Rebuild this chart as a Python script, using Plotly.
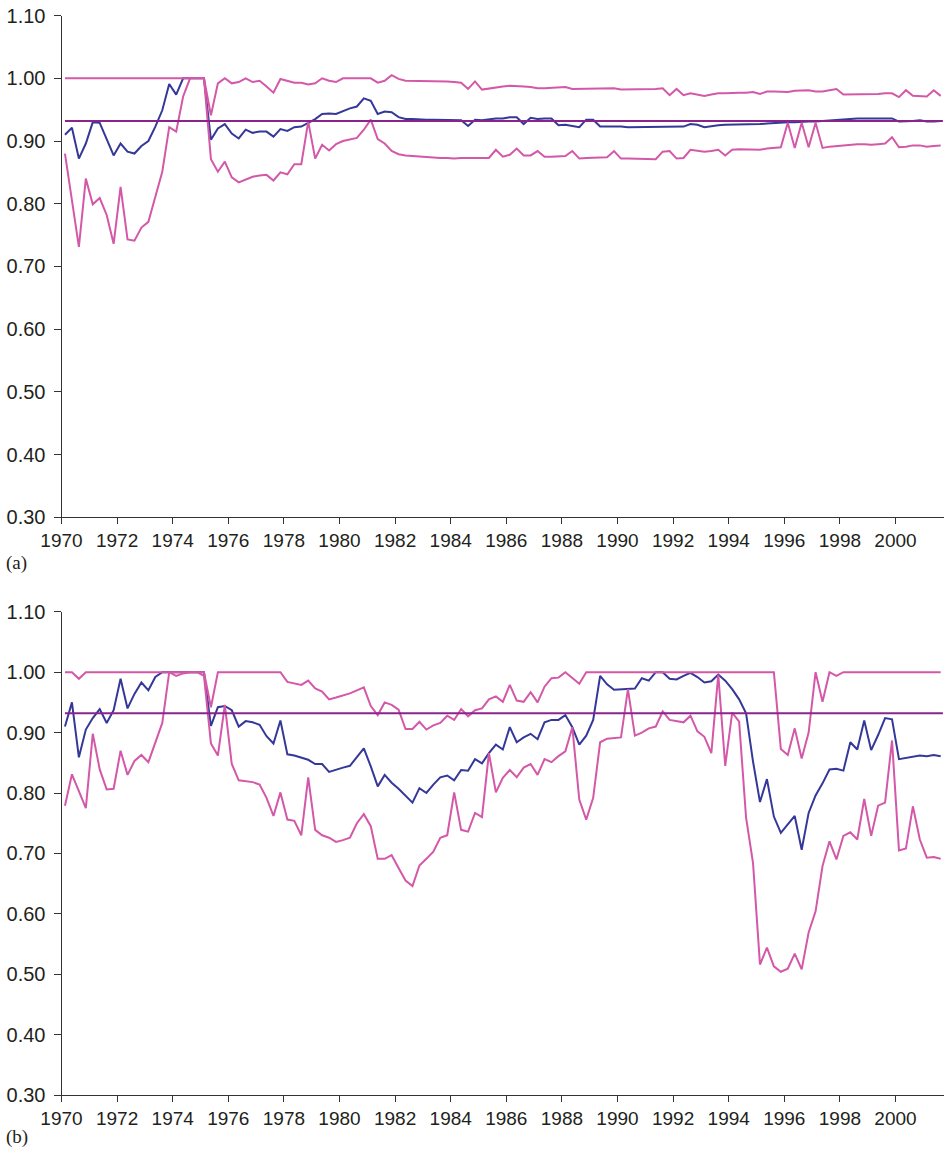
import plotly.graph_objects as go

# ---------------- data (quarterly, 1970Q1 .. 2001Q3) ----------------
START_YEAR = 1970
TARGET = 0.932
YEAR_TICKS = list(range(1970, 2001, 2))
Y_TICKS = [0.30, 0.40, 0.50, 0.60, 0.70, 0.80, 0.90, 1.00, 1.10]

a_mid = [0.910, 0.921, 0.872, 0.896, 0.930, 0.929, 0.903, 0.877, 0.896, 0.883,
         0.880, 0.892, 0.900, 0.923, 0.949, 0.991, 0.974, 1.000, 1.000, 1.000,
         1.000, 0.902, 0.920, 0.927, 0.912, 0.904, 0.918, 0.913, 0.915, 0.915,
         0.907, 0.919, 0.916, 0.922, 0.923, 0.929, 0.935, 0.943, 0.944, 0.943,
         0.948, 0.952, 0.955, 0.968, 0.964, 0.943, 0.947, 0.946, 0.938, 0.935,
         0.935, 0.934, 0.934, 0.934, 0.934, 0.934, 0.933, 0.933, 0.924, 0.934,
         0.933, 0.935, 0.936, 0.936, 0.938, 0.938, 0.927, 0.937, 0.935, 0.936,
         0.936, 0.925, 0.926, 0.924, 0.922, 0.934, 0.934, 0.923, 0.923, 0.924,
         0.923, 0.922, 0.922, 0.922, 0.922, 0.922, 0.923, 0.923, 0.923, 0.923,
         0.927, 0.926, 0.922, 0.924, 0.925, 0.926, 0.926, 0.927, 0.927, 0.926,
         0.927, 0.928, 0.929, 0.929, 0.930, 0.930, 0.931, 0.931, 0.931, 0.932,
         0.933, 0.934, 0.935, 0.936, 0.936, 0.936, 0.936, 0.936, 0.936, 0.936,
         0.931, 0.931, 0.932, 0.933, 0.931, 0.931, 0.932]

a_upper = [1.000, 1.000, 1.000, 1.000, 1.000, 1.000, 1.000, 1.000, 1.000, 1.000,
           1.000, 1.000, 1.000, 1.000, 1.000, 1.000, 1.000, 1.000, 1.000, 1.000,
           1.000, 0.941, 0.992, 1.000, 0.992, 0.994, 1.000, 0.994, 0.996, 0.987,
           0.977, 0.999, 0.996, 0.993, 0.993, 0.990, 0.992, 1.000, 0.996, 0.994,
           1.000, 1.000, 1.000, 1.000, 1.000, 0.993, 0.996, 1.005, 0.999, 0.996,
           0.996, 0.995, 0.995, 0.995, 0.995, 0.995, 0.994, 0.993, 0.983, 0.995,
           0.982, 0.984, 0.986, 0.987, 0.988, 0.988, 0.987, 0.986, 0.984, 0.984,
           0.985, 0.985, 0.986, 0.983, 0.983, 0.983, 0.983, 0.983, 0.984, 0.984,
           0.982, 0.982, 0.982, 0.982, 0.983, 0.983, 0.984, 0.973, 0.983, 0.973,
           0.976, 0.974, 0.972, 0.974, 0.976, 0.976, 0.977, 0.977, 0.977, 0.978,
           0.975, 0.979, 0.979, 0.978, 0.978, 0.980, 0.980, 0.981, 0.979, 0.979,
           0.981, 0.983, 0.974, 0.974, 0.974, 0.974, 0.974, 0.975, 0.976, 0.976,
           0.970, 0.981, 0.972, 0.972, 0.971, 0.981, 0.972]

a_lower = [0.880, 0.805, 0.731, 0.840, 0.799, 0.809, 0.782, 0.736, 0.827, 0.743,
           0.741, 0.762, 0.771, 0.811, 0.851, 0.922, 0.915, 0.971, 1.000, 1.000,
           1.000, 0.871, 0.851, 0.867, 0.842, 0.834, 0.838, 0.843, 0.845, 0.846,
           0.837, 0.850, 0.847, 0.863, 0.863, 0.931, 0.872, 0.894, 0.885, 0.895,
           0.900, 0.903, 0.905, 0.918, 0.934, 0.903, 0.896, 0.884, 0.879, 0.877,
           0.876, 0.876, 0.875, 0.874, 0.873, 0.873, 0.872, 0.873, 0.873, 0.873,
           0.872, 0.873, 0.886, 0.875, 0.878, 0.888, 0.877, 0.877, 0.884, 0.875,
           0.875, 0.875, 0.876, 0.884, 0.872, 0.873, 0.873, 0.873, 0.874, 0.884,
           0.872, 0.872, 0.872, 0.872, 0.872, 0.871, 0.883, 0.884, 0.872, 0.873,
           0.886, 0.885, 0.883, 0.884, 0.886, 0.877, 0.886, 0.887, 0.887, 0.887,
           0.886, 0.888, 0.889, 0.890, 0.929, 0.889, 0.929, 0.890, 0.929, 0.889,
           0.891, 0.892, 0.894, 0.895, 0.895, 0.895, 0.894, 0.895, 0.896, 0.906,
           0.890, 0.891, 0.893, 0.893, 0.891, 0.892, 0.893]

b_mid = [0.910, 0.950, 0.859, 0.905, 0.924, 0.939, 0.916, 0.937, 0.989, 0.940,
         0.964, 0.983, 0.970, 0.992, 1.000, 1.000, 1.000, 1.000, 1.000, 1.000,
         1.000, 0.911, 0.942, 0.944, 0.937, 0.910, 0.919, 0.917, 0.913, 0.894,
         0.882, 0.920, 0.864, 0.862, 0.859, 0.855, 0.848, 0.848, 0.835, 0.839,
         0.842, 0.845, 0.860, 0.874, 0.844, 0.811, 0.830, 0.817, 0.807, 0.795,
         0.784, 0.808, 0.800, 0.814, 0.826, 0.829, 0.821, 0.838, 0.837, 0.856,
         0.849, 0.866, 0.880, 0.872, 0.909, 0.884, 0.892, 0.898, 0.889, 0.917,
         0.921, 0.921, 0.929, 0.909, 0.880, 0.895, 0.921, 0.994, 0.980, 0.971,
         0.972, 0.972, 0.973, 0.990, 0.986, 1.000, 1.000, 0.989, 0.988, 0.994,
         0.999, 0.992, 0.983, 0.985, 0.996, 0.986, 0.972, 0.955, 0.932, 0.852,
         0.785, 0.823, 0.761, 0.734, 0.748, 0.762, 0.706, 0.767, 0.796, 0.816,
         0.839, 0.840, 0.837, 0.884, 0.872, 0.920, 0.871, 0.896, 0.924, 0.922,
         0.856, 0.858, 0.859, 0.862, 0.861, 0.863, 0.861]

b_upper = [1.000, 1.000, 0.989, 1.000, 1.000, 1.000, 1.000, 1.000, 1.000, 1.000,
           1.000, 1.000, 1.000, 1.000, 1.000, 1.000, 1.000, 1.000, 1.000, 1.000,
           1.000, 0.942, 1.000, 1.000, 1.000, 1.000, 1.000, 1.000, 1.000, 1.000,
           1.000, 1.000, 0.984, 0.982, 0.979, 0.986, 0.973, 0.968, 0.955, 0.958,
           0.961, 0.965, 0.970, 0.975, 0.944, 0.929, 0.950, 0.946, 0.938, 0.906,
           0.906, 0.918, 0.905, 0.912, 0.916, 0.928, 0.921, 0.939, 0.927, 0.937,
           0.940, 0.955, 0.960, 0.951, 0.979, 0.953, 0.951, 0.967, 0.950, 0.976,
           0.990, 0.991, 1.000, 0.990, 0.981, 1.000, 1.000, 1.000, 1.000, 1.000,
           1.000, 1.000, 1.000, 1.000, 1.000, 1.000, 1.000, 1.000, 1.000, 1.000,
           1.000, 1.000, 1.000, 1.000, 1.000, 1.000, 1.000, 1.000, 1.000, 1.000,
           1.000, 1.000, 1.000, 0.873, 0.863, 0.907, 0.857, 0.900, 1.000, 0.951,
           1.000, 0.994, 1.000, 1.000, 1.000, 1.000, 1.000, 1.000, 1.000, 1.000,
           1.000, 1.000, 1.000, 1.000, 1.000, 1.000, 1.000]

b_lower = [0.779, 0.831, 0.803, 0.775, 0.898, 0.839, 0.806, 0.807, 0.870, 0.830,
           0.853, 0.863, 0.851, 0.882, 0.916, 1.000, 0.994, 0.998, 1.000, 1.000,
           0.994, 0.882, 0.862, 0.946, 0.848, 0.821, 0.820, 0.818, 0.814, 0.792,
           0.762, 0.801, 0.756, 0.754, 0.730, 0.826, 0.739, 0.730, 0.726, 0.719,
           0.722, 0.726, 0.750, 0.765, 0.745, 0.691, 0.691, 0.697, 0.676, 0.655,
           0.646, 0.680, 0.691, 0.703, 0.726, 0.730, 0.801, 0.739, 0.736, 0.767,
           0.760, 0.866, 0.801, 0.825, 0.838, 0.826, 0.842, 0.848, 0.830, 0.856,
           0.851, 0.861, 0.869, 0.909, 0.789, 0.756, 0.792, 0.884, 0.890, 0.891,
           0.892, 0.972, 0.895, 0.900, 0.907, 0.910, 0.935, 0.921, 0.919, 0.917,
           0.928, 0.902, 0.893, 0.866, 0.996, 0.845, 0.933, 0.918, 0.759, 0.684,
           0.516, 0.544, 0.513, 0.504, 0.509, 0.534, 0.508, 0.569, 0.604, 0.679,
           0.720, 0.690, 0.729, 0.735, 0.723, 0.790, 0.729, 0.779, 0.784, 0.887,
           0.705, 0.708, 0.778, 0.723, 0.693, 0.694, 0.691]

# ---------------- styling ----------------
W, H = 944, 1152
BLUE = "rgb(52,56,152)"
PINK = "rgb(212,88,168)"
PURPLE = "rgb(138,36,140)"
TXT = "#231f20"
SANS = "Liberation Sans, Arial, Helvetica, sans-serif"
SERIF = "Liberation Serif, Times New Roman, serif"

n = len(a_mid)
xq = [START_YEAR + (i + 0.5) / 4.0 for i in range(n)]

PX_PER_YEAR = 27.8
LEFT = 61.5
x_end = START_YEAR + (W - LEFT) / PX_PER_YEAR

fig = go.Figure()


def add_panel(mid, upper, lower, xa, ya):
    fig.add_trace(go.Scatter(x=xq, y=mid, mode="lines", xaxis=xa, yaxis=ya,
                             line=dict(color=BLUE, width=2), showlegend=False))
    fig.add_trace(go.Scatter(x=xq, y=upper, mode="lines", xaxis=xa, yaxis=ya,
                             line=dict(color=PINK, width=2), showlegend=False))
    fig.add_trace(go.Scatter(x=xq, y=lower, mode="lines", xaxis=xa, yaxis=ya,
                             line=dict(color=PINK, width=2), showlegend=False))
    fig.add_trace(go.Scatter(x=[xq[0], xq[-1] + 0.08], y=[TARGET, TARGET], mode="lines",
                             xaxis=xa, yaxis=ya,
                             line=dict(color=PURPLE, width=2), showlegend=False))


add_panel(a_mid, a_upper, a_lower, "x", "y")
add_panel(b_mid, b_upper, b_lower, "x2", "y2")

xcommon = dict(range=[START_YEAR, x_end], tickmode="array", tickvals=YEAR_TICKS,
               ticktext=[str(v) for v in YEAR_TICKS], showgrid=False, zeroline=False,
               showline=True, linecolor="#333333", linewidth=1,
               ticks="outside", ticklen=6, tickcolor="#333333", tickwidth=1,
               tickfont=dict(family=SANS, size=19, color=TXT),
               domain=[LEFT / W, 1.0], fixedrange=True, automargin=False)
ycommon = dict(range=[0.30, 1.10], tickmode="array", tickvals=Y_TICKS,
               ticktext=["%.2f" % v for v in Y_TICKS], showgrid=False, zeroline=False,
               showline=True, linecolor="#333333", linewidth=1,
               ticks="outside", ticklen=7, tickcolor="#333333", tickwidth=1,
               ticklabelstandoff=4,
               tickfont=dict(family=SANS, size=20, color=TXT), fixedrange=True,
               automargin=False)

# pixel positions of the axes
A_TOP, A_BOT = 15.6, 517.2
B_TOP, B_BOT = 611.8, 1095.0

fig.update_layout(
    width=W, height=H,
    margin=dict(l=0, r=0, t=0, b=0, autoexpand=False),
    paper_bgcolor="white", plot_bgcolor="white",
    xaxis=dict(xcommon, anchor="y"),
    yaxis=dict(ycommon, anchor="x", domain=[1 - A_BOT / H, 1 - A_TOP / H]),
    xaxis2=dict(xcommon, anchor="y2"),
    yaxis2=dict(ycommon, anchor="x2", domain=[1 - B_BOT / H, 1 - B_TOP / H]),
    annotations=[
        dict(text="(a)", x=4 / W, y=1 - 563 / H, xref="paper", yref="paper",
             xanchor="left", yanchor="middle", showarrow=False,
             font=dict(family=SERIF, size=19, color=TXT)),
        dict(text="(b)", x=4 / W, y=1 - 1137 / H, xref="paper", yref="paper",
             xanchor="left", yanchor="middle", showarrow=False,
             font=dict(family=SERIF, size=19, color=TXT)),
    ],
)

fig.write_html("out.html", config={"displayModeBar": False})
